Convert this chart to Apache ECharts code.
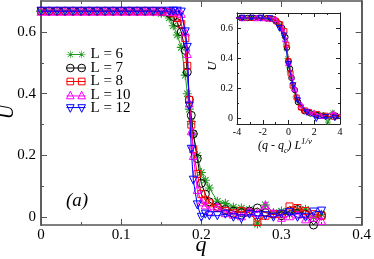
<!DOCTYPE html>
<html><head><meta charset="utf-8">
<script src="https://cdn.jsdelivr.net/npm/echarts@6/dist/echarts.min.js"></script>
<style>html,body{margin:0;padding:0;background:#fff}#c{width:374px;height:259px}</style>
</head><body><div id="c"></div>
<script>
const qValues = [0,0.01,0.02,0.03,0.04,0.05,0.06,0.07,0.08,0.09,0.10,0.11,0.12,0.13,0.14,0.15,
  0.16,0.165,0.17,0.175,0.18,0.1825,0.185,0.1875,0.19,0.195,
  0.2,0.205,0.21,
  0.22,0.23,0.24,0.25,0.26,0.27,0.28,0.29,0.30,0.31,0.32,0.33,0.34,0.35];
const U_L6 = [0.667,0.667,0.667,0.667,0.667,0.667,0.667,0.667,0.667,0.667,0.667,0.667,0.667,0.667,0.665,0.66,
  0.645,0.62,0.59,0.55,0.46,0.40,0.35,0.31,0.27,0.2,
  0.145,0.12,0.095,
  0.052,0.045,0.033,0.03,0.025,-0.022,0.04,0.015,0.02,0.01,0.025,0.026,0.0,0.01];
const U_L7 = [0.667,0.667,0.667,0.667,0.667,0.667,0.667,0.667,0.667,0.667,0.667,0.667,0.667,0.667,0.667,0.665,
  0.66,0.65,0.63,0.6,0.54,0.47,0.38,0.33,0.27,0.19,
  0.11,0.075,0.05,
  0.035,0.025,0.02,0.015,0.02,0.03,0.015,0.01,0.005,0.02,0.025,0.01,-0.025,0.005];
const U_L8 = [0.667,0.667,0.667,0.667,0.667,0.667,0.667,0.667,0.667,0.667,0.667,0.667,0.667,0.667,0.667,0.667,
  0.664,0.66,0.645,0.625,0.58,0.49,0.38,0.3,0.22,0.14,
  0.075,0.055,0.045,
  0.03,0.02,0.013,0.02,0.015,-0.015,0.005,0.01,0.01,0.035,0.03,0.02,0.01,0.005];
const U_L10 = [0.667,0.667,0.667,0.667,0.667,0.667,0.667,0.667,0.667,0.667,0.667,0.667,0.667,0.667,0.667,0.667,
  0.667,0.667,0.665,0.66,0.6,0.53,0.37,0.28,0.2,0.09,
  0.05,0.04,0.02,
  0.036,0.015,0.01,0.005,0.02,0.015,0.04,0.015,0.0,0.005,0.01,-0.005,0.0,-0.01];
const U_L12 = [0.667,0.667,0.667,0.667,0.667,0.667,0.667,0.667,0.667,0.667,0.667,0.667,0.667,0.667,0.667,0.667,
  0.667,0.667,0.667,0.664,0.6,0.55,0.36,0.22,0.12,0.04,
  0.0,0.01,0.005,
  0.005,0.01,0.0,-0.005,0.01,0.005,0.005,0.0,0.01,0.015,0.0,0.0,0.017,0.02];
const sizesL = [6,7,8,10,12];
const seriesNames = ['L = 6','L = 7','L = 8','L = 10','L = 12'];
const qc = 0.185;
const nuInv = 2;
const mainYTicks = [0,0.2,0.4,0.6];
const mainYMinor = [0.1,0.3,0.5];
const insetYTicks = [0,0.2,0.4,0.6];
const insetYMinor = [0.1,0.3,0.5];

const allU = [U_L6,U_L7,U_L8,U_L10,U_L12];
const colors = ['#1f9a1f','#000000','#ff0000','#ff00ff','#0000ff'];
const star = 'path://M-0.6,-5L0.6,-5L0.6,5L-0.6,5ZM-5,-0.6L5,-0.6L5,0.6L-5,0.6ZM-3.12,-3.96L3.96,3.12L3.12,3.96L-3.96,-3.12ZM3.12,-3.96L3.96,-3.12L-3.12,3.96L-3.96,3.12Z';
const symbols = [star,'circle','rect','triangle','triangle'];
const rotations = [0,0,0,0,180];
const mainSizes = [9,8,7,8,8];
const insetSizes = [6,5.5,5,5.5,5.5];
// legend icons: marker - line - marker (20 x 8 box)
const legendIcons = [
  'path://M3.7,0L4.3,0L4.3,8L3.7,8ZM0,3.7L8,3.7L8,4.3L0,4.3ZM1.3,0.9L7.1,6.7L6.7,7.1L0.9,1.3ZM6.7,0.9L7.1,1.3L1.3,7.1L0.9,6.7Z' +
  'M15.7,0L16.3,0L16.3,8L15.7,8ZM12,3.7L20,3.7L20,4.3L12,4.3ZM13.3,0.9L19.1,6.7L18.7,7.1L12.9,1.3ZM18.7,0.9L19.1,1.3L13.3,7.1L12.9,6.7Z' +
  'M4,3.6L16,3.6L16,4.4L4,4.4Z',
  'path://M4,0A4,4 0 1,1 4,8A4,4 0 1,1 4,0ZM16,0A4,4 0 1,1 16,8A4,4 0 1,1 16,0ZM0,4L20,4',
  'path://M0.5,0.5L7.5,0.5L7.5,7.5L0.5,7.5ZM12.5,0.5L19.5,0.5L19.5,7.5L12.5,7.5ZM0,4L20,4',
  'path://M4,0L8,8L0,8ZM16,0L20,8L12,8ZM0,5L20,5',
  'path://M0,0L8,0L4,8ZM12,0L20,0L16,8ZM0,3L20,3'
];
const SERIF = '"Liberation Serif","DejaVu Serif",serif';
const frame = '#555';

function itemStyleFor(i){
  if(i===0) return {color: colors[i]};
  return {color:'rgba(0,0,0,0)', borderColor: colors[i], borderWidth: 1};
}
const series = [];
for(let i=0;i<5;i++){
  series.push({
    name: seriesNames[i], type:'line', xAxisIndex:0, yAxisIndex:0,
    data: qValues.map((q,k)=>[q, allU[i][k]]),
    symbol: symbols[i], symbolSize: mainSizes[i], symbolRotate: rotations[i],
    showAllSymbol: true, clip:false, animation:false,
    lineStyle:{color: colors[i], width:1},
    itemStyle: itemStyleFor(i), z: 2+i
  });
}
for(let i=0;i<5;i++){
  const f = Math.pow(sizesL[i], nuInv);
  series.push({
    name: seriesNames[i], type:'line', xAxisIndex:2, yAxisIndex:4,
    data: qValues.map((q,k)=>[(q-qc)*f, allU[i][k]]),
    symbol: symbols[i], symbolSize: insetSizes[i], symbolRotate: rotations[i],
    showAllSymbol: true, clip:true, animation:false,
    lineStyle:{color: colors[i], width:0.8},
    itemStyle: itemStyleFor(i), z: 12+i
  });
}
function yAx(grid, pos, min, max, vals, len, labels, color, lw, fs, margin){
  return {type:'value', gridIndex:grid, position:pos, min:min, max:max,
    axisLine:{show:true, onZero:false, lineStyle:{color:color, width:lw}},
    axisTick:{show:true, inside:true, length:len, customValues: vals, lineStyle:{color:color, width:1}},
    axisLabel:{show:labels, customValues: vals, fontFamily:SERIF, fontSize:fs, color:'#000', margin:margin},
    splitLine:{show:false}};
}
function xAx(grid, pos, min, max, interval, len, mlen, labels, color, lw, fs, margin){
  return {type:'value', gridIndex:grid, position:pos, min:min, max:max, interval:interval,
    axisLine:{show:true, onZero:false, lineStyle:{color:color, width:lw}},
    axisTick:{show:true, inside:true, length:len, lineStyle:{color:color, width:1}},
    minorTick:{show:true, splitNumber:2, length:mlen, lineStyle:{color:color, width:1}},
    axisLabel:{show:labels, fontFamily:SERIF, fontSize:fs, color:'#000', margin:margin,
      formatter: v => String(Math.round(v*1000)/1000)},
    splitLine:{show:false}, minorSplitLine:{show:false}};
}
const chart = echarts.init(document.getElementById('c'), null, {renderer:'canvas'});
chart.setOption({
  animation:false,
  backgroundColor:'#fff',
  grid:[
    {left:41, right:9, top:1, bottom:34},
    {left:237, right:34, top:13, bottom:135, show:true, backgroundColor:'#fff', borderWidth:0, z:10}
  ],
  xAxis:[
    xAx(0,'bottom',0,0.4,0.1,6,3,true,frame,1.5,15,3),
    xAx(0,'top',0,0.4,0.1,6,3,false,frame,1.5,15,3),
    Object.assign(xAx(1,'bottom',-4,4,2,4,2,true,'#222',1,10,3),{z:10}),
    Object.assign(xAx(1,'top',-4,4,2,4,2,false,'#222',1,10,3),{z:10})
  ],
  yAxis:[
    yAx(0,'left',-0.025,0.7,mainYTicks,6,true,frame,1.5,15,5),
    yAx(0,'left',-0.025,0.7,mainYMinor,3,false,frame,1.5,15,5),
    yAx(0,'right',-0.025,0.7,mainYTicks,6,false,frame,1.5,15,5),
    yAx(0,'right',-0.025,0.7,mainYMinor,3,false,frame,1.5,15,5),
    Object.assign(yAx(1,'left',-0.035,0.7,insetYTicks,4,true,'#222',1,10,4),{z:10}),
    Object.assign(yAx(1,'left',-0.035,0.7,insetYMinor,2,false,'#222',1,10,4),{z:10}),
    Object.assign(yAx(1,'right',-0.035,0.7,insetYTicks,4,false,'#222',1,10,4),{z:10}),
    Object.assign(yAx(1,'right',-0.035,0.7,insetYMinor,2,false,'#222',1,10,4),{z:10})
  ],
  legend:{
    data: seriesNames.map((n,i)=>({
      name:n, icon: legendIcons[i],
      itemStyle: i===0 ? {color: colors[i], borderWidth:0} : {color:'rgba(0,0,0,0)', borderColor: colors[i], borderWidth:1}
    })),
    orient:'vertical', left:61, top:42,
    itemWidth:19, itemHeight:8, itemGap:-1.5, selectedMode:false,
    textStyle:{fontFamily:SERIF, fontSize:15, color:'#000', lineHeight:14}
  },
  series: series,
  graphic:[
    {type:'text', x:201, y:245, style:{text:'q', font:'italic 22px '+SERIF, fill:'#000', align:'center', verticalAlign:'middle'}},
    {type:'text', x:8, y:112, rotation:Math.PI/2, style:{text:'U', font:'italic 20px '+SERIF, fill:'#000', align:'center', verticalAlign:'middle'}},
    {type:'text', x:77, y:201, style:{text:'(a)', font:'italic 19px '+SERIF, fill:'#000', align:'center', verticalAlign:'middle'}},
    {type:'text', x:213, y:66, rotation:Math.PI/2, z:20, style:{text:'U', font:'italic 13px '+SERIF, fill:'#000', align:'center', verticalAlign:'middle'}},
    {type:'text', x:285, y:146, z:20, style:{
      text:'{m|(q - q}{s|c}{m|) L}{p|1/ν}', align:'center', verticalAlign:'middle',
      rich:{
        m:{font:'italic 12px '+SERIF, fill:'#000', lineHeight:18, verticalAlign:'middle'},
        s:{font:'italic 8px '+SERIF, fill:'#000', lineHeight:8, verticalAlign:'bottom'},
        p:{font:'italic 9px '+SERIF, fill:'#000', lineHeight:9, verticalAlign:'top'}
      }}}
  ]
});
</script></body></html>
